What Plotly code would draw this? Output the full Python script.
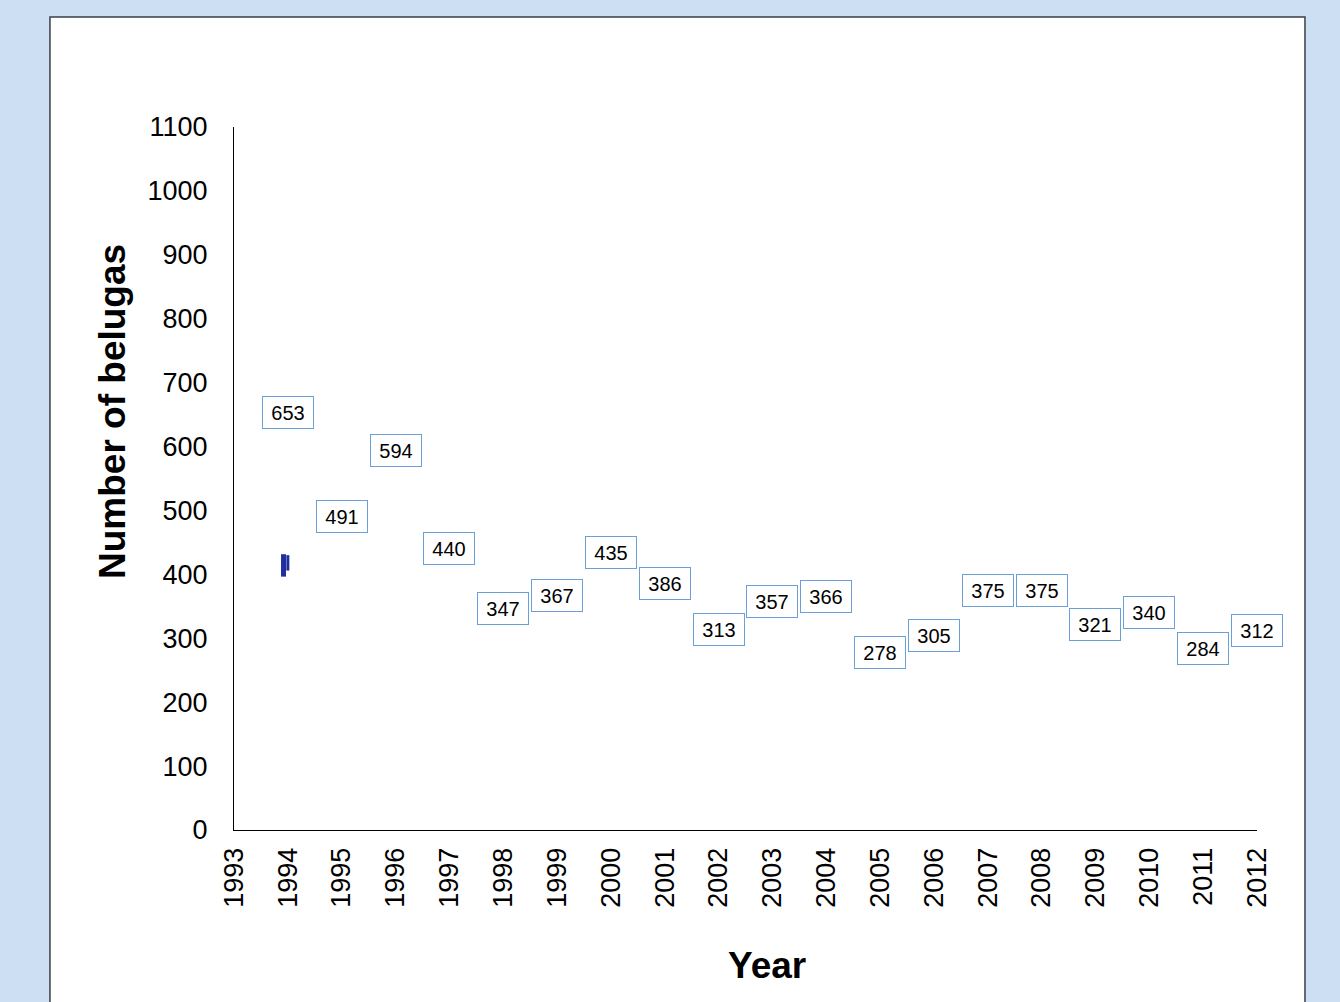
import plotly.graph_objects as go

# Beluga counts per survey year
years = [1994, 1995, 1996, 1997, 1998, 1999, 2000, 2001, 2002, 2003,
         2004, 2005, 2006, 2007, 2008, 2009, 2010, 2011, 2012]
belugas = [653, 491, 594, 440, 347, 367, 435, 386, 313, 357,
           366, 278, 305, 375, 375, 321, 340, 284, 312]

# stray series marker near the first year (two short strokes)
marker_year = [1993.92, 1994.0]
marker_value = [414, 418]
marker_size = [16, 11]
marker_width = [5, 3]

x_ticks = list(range(1993, 2013))
y_ticks = list(range(0, 1101, 100))

FONT = "Liberation Sans, Arial, sans-serif"

fig = go.Figure()

for mx, my, ms, mw in zip(marker_year, marker_value, marker_size, marker_width):
    fig.add_trace(go.Scatter(
        x=[mx], y=[my], mode="markers",
        marker=dict(symbol="line-ns", size=ms, line=dict(color="#1f2fa0", width=mw)),
        hoverinfo="skip", showlegend=False,
    ))

# value labels in outlined boxes, centred on each year's count
for yr, val in zip(years, belugas):
    fig.add_annotation(
        x=yr, y=val, text=str(val), showarrow=False,
        font=dict(family=FONT, size=20, color="#000000"),
        bgcolor="#ffffff", bordercolor="#6a9fd8", borderwidth=1,
        borderpad=4, width=42, height=23,
    )

# axis titles
fig.add_annotation(
    xref="paper", yref="paper", x=(767 - 234) / 1023, y=(830 - 966) / 703,
    xanchor="center", yanchor="middle",
    text="<b>Year</b>", showarrow=False,
    font=dict(family=FONT, size=37, color="#000000"),
)
fig.add_annotation(
    xref="paper", yref="paper", x=(112 - 234) / 1023, y=(830 - 412) / 703,
    xanchor="center", yanchor="middle",
    text="<b>Number of belugas</b>", showarrow=False, textangle=-90,
    font=dict(family=FONT, size=37, color="#000000"),
)

# white chart panel on the light blue page
fig.add_shape(
    type="rect", xref="paper", yref="paper",
    x0=-0.1799, x1=1.0469, y0=-0.26, y1=1.1565,
    fillcolor="#ffffff", line=dict(color="#3a3f4a", width=1.5),
    layer="below",
)

fig.update_layout(
    width=1340, height=1002,
    paper_bgcolor="#cddff3", plot_bgcolor="rgba(0,0,0,0)",
    margin=dict(l=234, r=83, t=127, b=172),
    showlegend=False,
    font=dict(family=FONT, color="#000000"),
    xaxis=dict(
        range=[1993, 2012], tickmode="array", tickvals=x_ticks,
        ticktext=[str(t) for t in x_ticks], tickangle=-90,
        tickfont=dict(size=27), showgrid=False, zeroline=False,
        showline=True, linecolor="#000000", linewidth=1, ticks="",
        ticklabelstandoff=6,
    ),
    yaxis=dict(
        range=[0, 1100], tickmode="array", tickvals=y_ticks,
        tickfont=dict(size=27), showgrid=False, zeroline=False,
        showline=True, linecolor="#000000", linewidth=1, ticks="",
        ticklabelstandoff=20,
    ),
)

fig.write_html("out.html")
